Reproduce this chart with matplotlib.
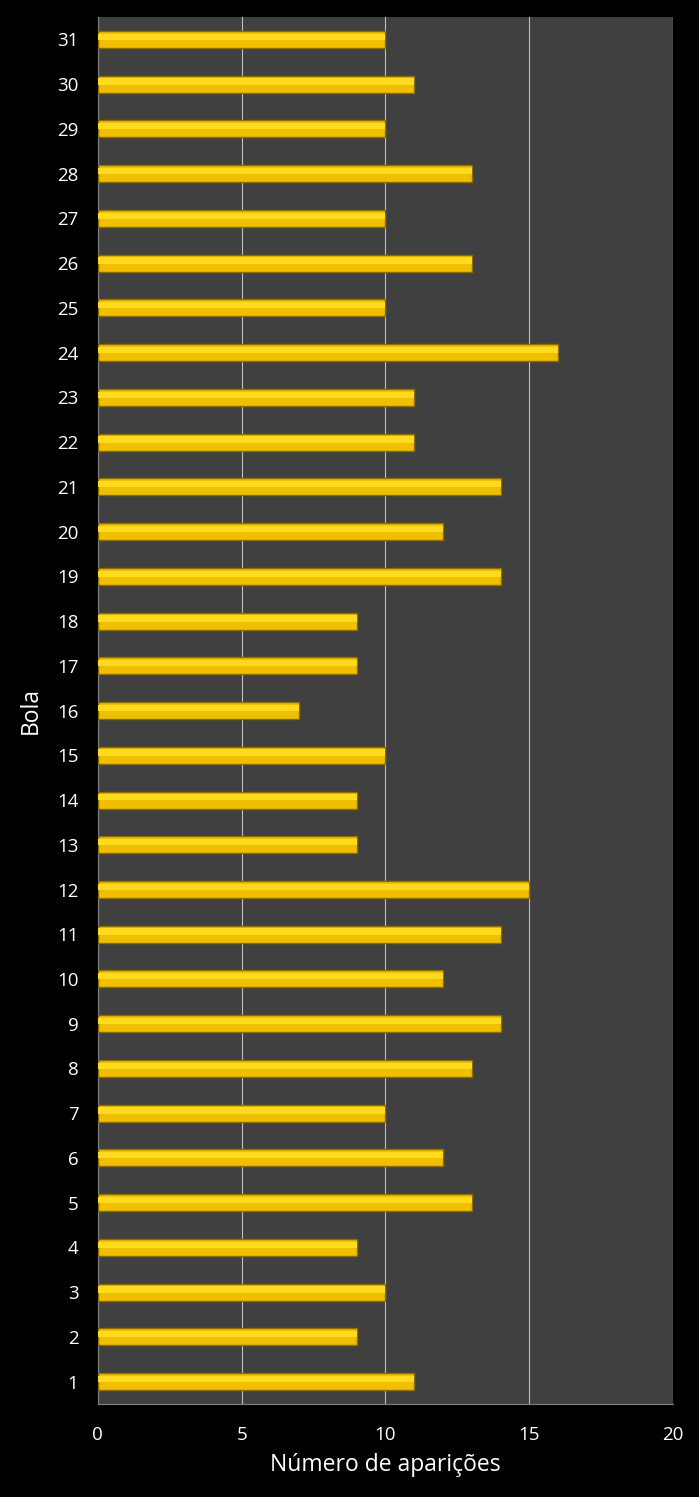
import matplotlib
matplotlib.use("Agg")
import matplotlib.pyplot as plt
import numpy as np

plt.rcParams['font.family'] = ['Open Sans', 'DejaVu Sans']

bolas = list(range(1, 32))
aparicoes = [11, 9, 10, 9, 13, 12, 10, 13, 14, 12, 14, 15, 9, 9, 10, 7,
             9, 9, 14, 12, 14, 11, 11, 16, 10, 13, 10, 13, 10, 11, 10]

fig = plt.figure(figsize=(6.99, 14.97), dpi=100, facecolor='black')
ax = fig.add_axes([0.140, 0.0621, 0.823, 0.9265])
ax.set_facecolor('#404040')

y = np.arange(len(bolas))
# main bar with dark rim
ax.barh(y, aparicoes, height=0.38, color='#F0C000', edgecolor='#8C6D00',
        linewidth=1.0, zorder=3)
# light top highlight for the bevel look
ax.barh(y + 0.06, aparicoes, height=0.14, color='#FFDA1F', linewidth=0,
        zorder=4)

ax.set_xlim(0, 20)
ax.set_ylim(-0.5, len(bolas) - 0.5)
ax.set_xticks([0, 5, 10, 15, 20])
ax.set_yticks(y)
ax.set_yticklabels([str(b) for b in bolas])

ax.grid(axis='x', color='#BFBFBF', linewidth=0.8, zorder=1)
ax.set_axisbelow(True)

for s in ['top', 'right']:
    ax.spines[s].set_visible(False)
ax.spines['left'].set_color('#808080')
ax.spines['bottom'].set_color('#808080')

ax.tick_params(colors='white', labelsize=13.5, length=0, pad=14)
ax.tick_params(axis='x', pad=16)

ax.set_xlabel('Número de aparições', color='white', fontsize=16.5, labelpad=6)
ax.set_ylabel('Bola', color='white', fontsize=16.5, labelpad=10)

fig.savefig('out.png', dpi=100, facecolor='black')
